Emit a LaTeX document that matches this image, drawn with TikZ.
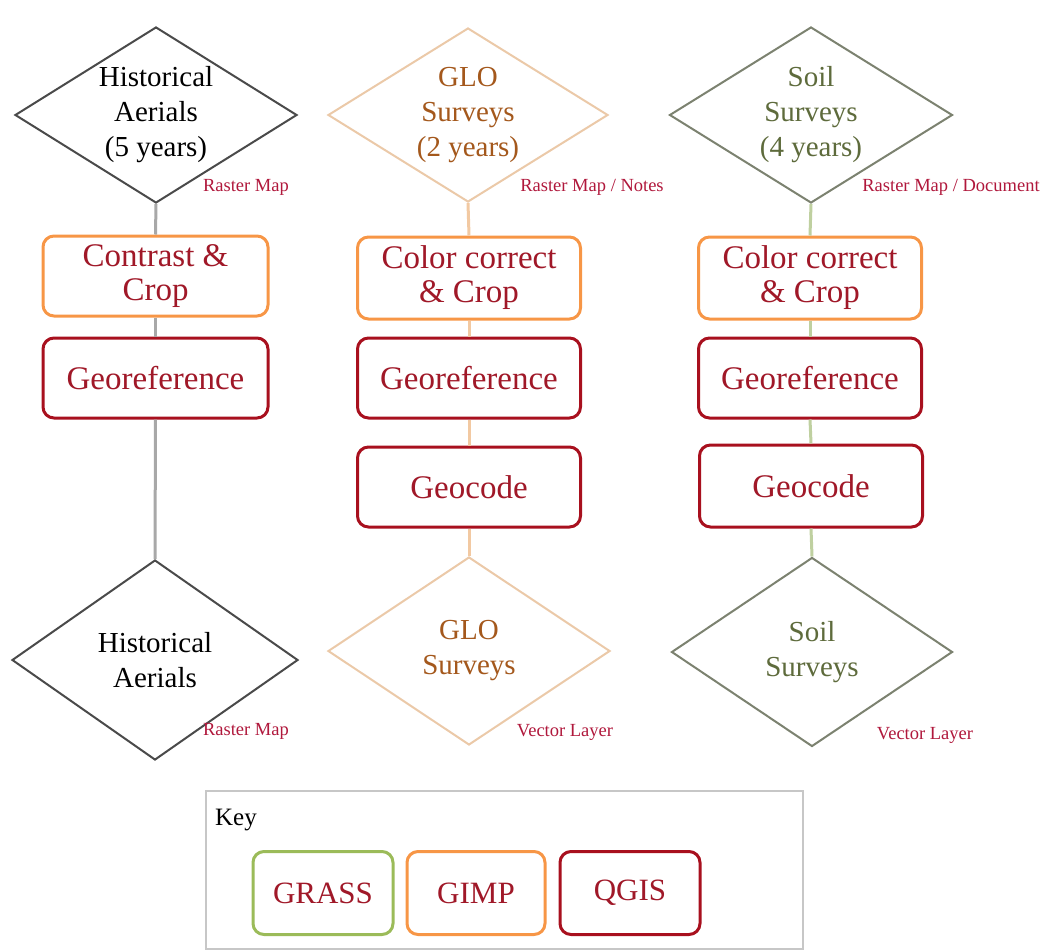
\documentclass[tikz,border=0pt]{standalone}
\usepackage{fontspec}
\setmainfont{Liberation Serif}
\usepackage{tikz}
\usetikzlibrary{shapes.geometric,positioning}
\definecolor{qgisred}{HTML}{A8101E}
\definecolor{gimporange}{HTML}{F79646}
\definecolor{grassgreen}{HTML}{9BBB59}
\definecolor{fmtred}{HTML}{B0183C}
\definecolor{toolred}{HTML}{A01828}
\definecolor{glotext}{HTML}{A4581C}
\definecolor{soiltext}{HTML}{5E6B3C}
\definecolor{aerdraw}{HTML}{4A4A4A}
\definecolor{glodraw}{HTML}{EBC9A8}
\definecolor{soildraw}{HTML}{7C8270}
\definecolor{aerline}{HTML}{A8A8A8}
\definecolor{gloline}{HTML}{F2C9A2}
\definecolor{soilline}{HTML}{BFD0A0}
\tikzset{
  src/.style={diamond, draw, line width=2pt, fill=white, inner sep=0pt, aspect=1.6,
    align=center, font=\fontsize{29}{35}\selectfont},
  tool/.style={rectangle, rounded corners=11pt, draw, line width=3pt, fill=white,
    align=center, minimum width=223pt, minimum height=80pt, text=toolred,
    font=\fontsize{33}{34}\selectfont},
  gimp/.style={tool, draw=gimporange},
  qgis/.style={tool, draw=qgisred},
  grass/.style={tool, draw=grassgreen},
  keytool/.style={minimum width=140pt, minimum height=83pt, font=\fontsize{31}{32}\selectfont},
  fmt/.style={text=fmtred, font=\fontsize{18.5}{20}\selectfont},
  link/.style={line width=3pt}
}
\begin{document}
\begin{tikzpicture}[x=1pt,y=-1pt]
\useasboundingbox (0,0) rectangle (1046,951);

\node[src, draw=aerdraw, minimum width=282pt, minimum height=176pt] (aerin) at (156,115)
  {Historical\\Aerials\\(5 years)};
\node[src, draw=glodraw, text=glotext, minimum width=280pt, minimum height=174pt] (gloin) at (468,115)
  {GLO\\Surveys\\(2 years)};
\node[src, draw=soildraw, text=soiltext, minimum width=283pt, minimum height=176pt] (soilin) at (811,115)
  {Soil\\Surveys\\(4 years)};

\node[fmt] (aerinfmt) at (246,187) {Raster Map};
\node[fmt] (gloinfmt) at (592,187) {Raster Map / Notes};
\node[fmt] (soilinfmt) at (951,187) {Raster Map / Document};

\node[gimp, minimum width=225pt] (aercrop) at (155.5,276) {Contrast \&\\Crop};
\node[qgis, minimum width=225pt] (aergeo) at (155.5,378) {Georeference};

\node[gimp, minimum height=82pt] (glocrop) at (469,278) {Color correct\\\& Crop};
\node[qgis] (glogeo) at (469,378) {Georeference};
\node[qgis] (glocode) at (469,487) {Geocode};

\node[gimp, minimum height=82pt] (soilcrop) at (810,278) {Color correct\\\& Crop};
\node[qgis] (soilgeo) at (810,378) {Georeference};
\node[qgis, minimum height=82pt] (soilcode) at (811,486) {Geocode};

\node[src, draw=aerdraw, minimum width=286pt, minimum height=200pt] (aerout) at (155,660)
  {Historical\\Aerials};
\node[src, draw=glodraw, text=glotext, minimum width=282pt, minimum height=188pt] (gloout) at (469,651)
  {GLO\\Surveys};
\node[src, draw=soildraw, text=soiltext, minimum width=281pt, minimum height=189pt] (soilout) at (812,652)
  {Soil\\Surveys};

\node[fmt] (aeroutfmt) at (246,731) {Raster Map};
\node[fmt] (glooutfmt) at (565,732) {Vector Layer};
\node[fmt] (soiloutfmt) at (925,735) {Vector Layer};

\path[link, draw=aerline]
(aerin.south) edge (aercrop.north)
(aercrop.south) edge (aergeo.north)
(aergeo.south) edge (aerout.north);
\path[link, draw=gloline]
(gloin.south) edge (glocrop.north)
(glocrop.south) edge (glogeo.north)
(glogeo.south) edge (glocode.north)
(glocode.south) edge (gloout.north);
\path[link, draw=soilline]
(soilin.south) edge (soilcrop.north)
(soilcrop.south) edge (soilgeo.north)
(soilgeo.south) edge (soilcode.north)
(soilcode.south) edge (soilout.north);

\node[draw=black!22, line width=2pt, anchor=north west, minimum width=597pt,
  minimum height=158pt] (keyframe) at (205,790) {};
\node[font=\fontsize{25}{26}\selectfont] (keytitle) at (236,820) {Key};
\node[grass, keytool] (keygrass) at (323,893) {GRASS};
\node[gimp, keytool, minimum width=138pt] (keygimp) at (476,893) {GIMP};
\node[qgis, keytool] (keyqgis) at (630,893) {QGIS};
\end{tikzpicture}
\end{document}
